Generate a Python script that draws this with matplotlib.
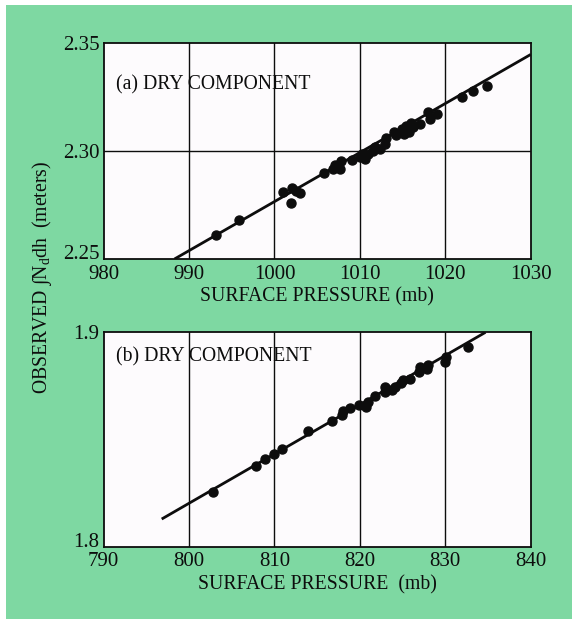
import matplotlib
matplotlib.use("Agg")
import matplotlib.pyplot as plt
from matplotlib.patches import Rectangle

plt.rcParams["font.family"] = ["Liberation Serif", "DejaVu Serif"]
plt.rcParams["mathtext.fontset"] = "custom"
plt.rcParams["mathtext.rm"] = "Liberation Serif"
plt.rcParams["mathtext.it"] = "Liberation Serif:italic"

GREEN = "#7ed8a2"
INK = "#0d0d0d"
FS = 14.2
TICK_FS = 15

# %% Data

# panel (a): sea-level stations
a_pressure = [993.2, 995.8, 1001.0, 1001.9, 1002.1, 1002.5, 1003.0, 1005.8,
              1006.9, 1007.1, 1007.7, 1007.8, 1009.1, 1010.0, 1010.2, 1010.6,
              1011.0, 1011.5, 1011.8, 1012.3, 1012.9, 1013.1, 1014.0, 1014.2,
              1014.9, 1015.1, 1015.4, 1015.8, 1016.0, 1016.2, 1017.0, 1018.0,
              1018.2, 1019.0, 1021.9, 1023.2, 1024.9]
a_observed = [2.261, 2.268, 2.281, 2.276, 2.283, 2.2815, 2.2805, 2.2896,
              2.2917, 2.2936, 2.2917, 2.2953, 2.2956, 2.2971, 2.2987, 2.2964,
              2.2984, 2.3002, 2.3018, 2.3010, 2.3033, 2.3060, 2.3088, 2.3072,
              2.3103, 2.3080, 2.3114, 2.3088, 2.3130, 2.3110, 2.3126, 2.3180,
              2.3149, 2.3170, 2.3250, 2.3277, 2.3300]
a_fit_x = [988.3, 1030.0]
a_fit_y = [2.250, 2.3447]

# panel (b): high-altitude station
b_pressure = [802.85, 807.8, 808.9, 809.9, 810.9, 813.9, 816.7, 817.9, 818.0,
              818.8, 819.9, 820.7, 820.9, 821.8, 822.9, 822.9, 823.8, 824.1,
              824.8, 825.0, 825.9, 826.9, 827.0, 827.8, 828.0, 830.0, 830.1,
              832.7]
b_observed = [1.8257, 1.8378, 1.8409, 1.8432, 1.8456, 1.8540, 1.8588, 1.8614,
              1.8633, 1.8645, 1.8661, 1.8650, 1.8677, 1.8703, 1.8723, 1.8743,
              1.8730, 1.8746, 1.8762, 1.8778, 1.8780, 1.8816, 1.8840, 1.8829,
              1.8848, 1.8863, 1.8886, 1.8933]
b_fit_x = [796.8, 834.7]
b_fit_y = [1.8129, 1.900]

a_xticks = [980, 990, 1000, 1010, 1020, 1030]
a_yticks = [2.25, 2.30, 2.35]
a_yticklabels = ["2.25", "2.30", "2.35"]
b_xticks = [790, 800, 810, 820, 830, 840]
b_yticks = [1.8, 1.9]
b_yticklabels = ["1.8", "1.9"]


# %% Helpers

def style_panel(ax, xticks, yticks, yticklabels, xlabel, tag):
    ax.set_facecolor("#fdfbfd")
    ax.set_xlim(xticks[0], xticks[-1])
    ax.set_ylim(yticks[0], yticks[-1])
    ax.set_xticks(xticks)
    ax.set_yticks(yticks)
    ax.set_yticklabels(yticklabels)
    ax.tick_params(length=0, labelsize=TICK_FS, colors=INK)
    ax.tick_params(axis="x", pad=4)
    ax.tick_params(axis="y", pad=3)
    # lowest y label sits on the axis line, as in the printed figure
    ax.get_yticklabels()[0].set_verticalalignment("baseline")
    for spine in ax.spines.values():
        spine.set_linewidth(1.3)
        spine.set_color(INK)
    for x in xticks[1:-1]:
        ax.axvline(x, color=INK, linewidth=1.0, zorder=1)
    for y in yticks[1:-1]:
        ax.axhline(y, color=INK, linewidth=1.0, zorder=1)
    ax.set_xlabel(xlabel, fontsize=FS, labelpad=3, color=INK)
    ax.text(0.029, tag[1], tag[0], transform=ax.transAxes, fontsize=FS,
            va="center", ha="left", color=INK, zorder=5)


# %% Figure

fig = plt.figure(figsize=(5.72, 6.19), dpi=100)
fig.patches.append(Rectangle((6 / 572, 0), 1, 1 - 5 / 619, transform=fig.transFigure,
                             facecolor=GREEN, edgecolor="none", zorder=-10))

ax_a = fig.add_axes([0.1811, 0.5816, 0.7469, 0.349])
ax_b = fig.add_axes([0.1811, 0.1168, 0.7469, 0.3464])

style_panel(ax_a, a_xticks, a_yticks, a_yticklabels,
            "SURFACE PRESSURE (mb)", ("(a) DRY COMPONENT", 0.806))
ax_a.plot(a_fit_x, a_fit_y, color=INK, linewidth=2.0, zorder=3,
          solid_capstyle="butt")
ax_a.plot(a_pressure, a_observed, "o", color=INK, markersize=6.5, zorder=4)

style_panel(ax_b, b_xticks, b_yticks, b_yticklabels,
            "SURFACE PRESSURE  (mb)", ("(b) DRY COMPONENT", 0.886))
ax_b.plot(b_fit_x, b_fit_y, color=INK, linewidth=2.0, zorder=3,
          solid_capstyle="butt")
ax_b.plot(b_pressure, b_observed, "o", color=INK, markersize=6.5, zorder=4)

fig.text(0.073, 1 - 277 / 619, "OBSERVED \u222bN$_\\mathrm{d}$dh  (meters)",
         rotation=90, ha="center", va="center", fontsize=FS, color=INK)

fig.savefig("out.png", dpi=100)
